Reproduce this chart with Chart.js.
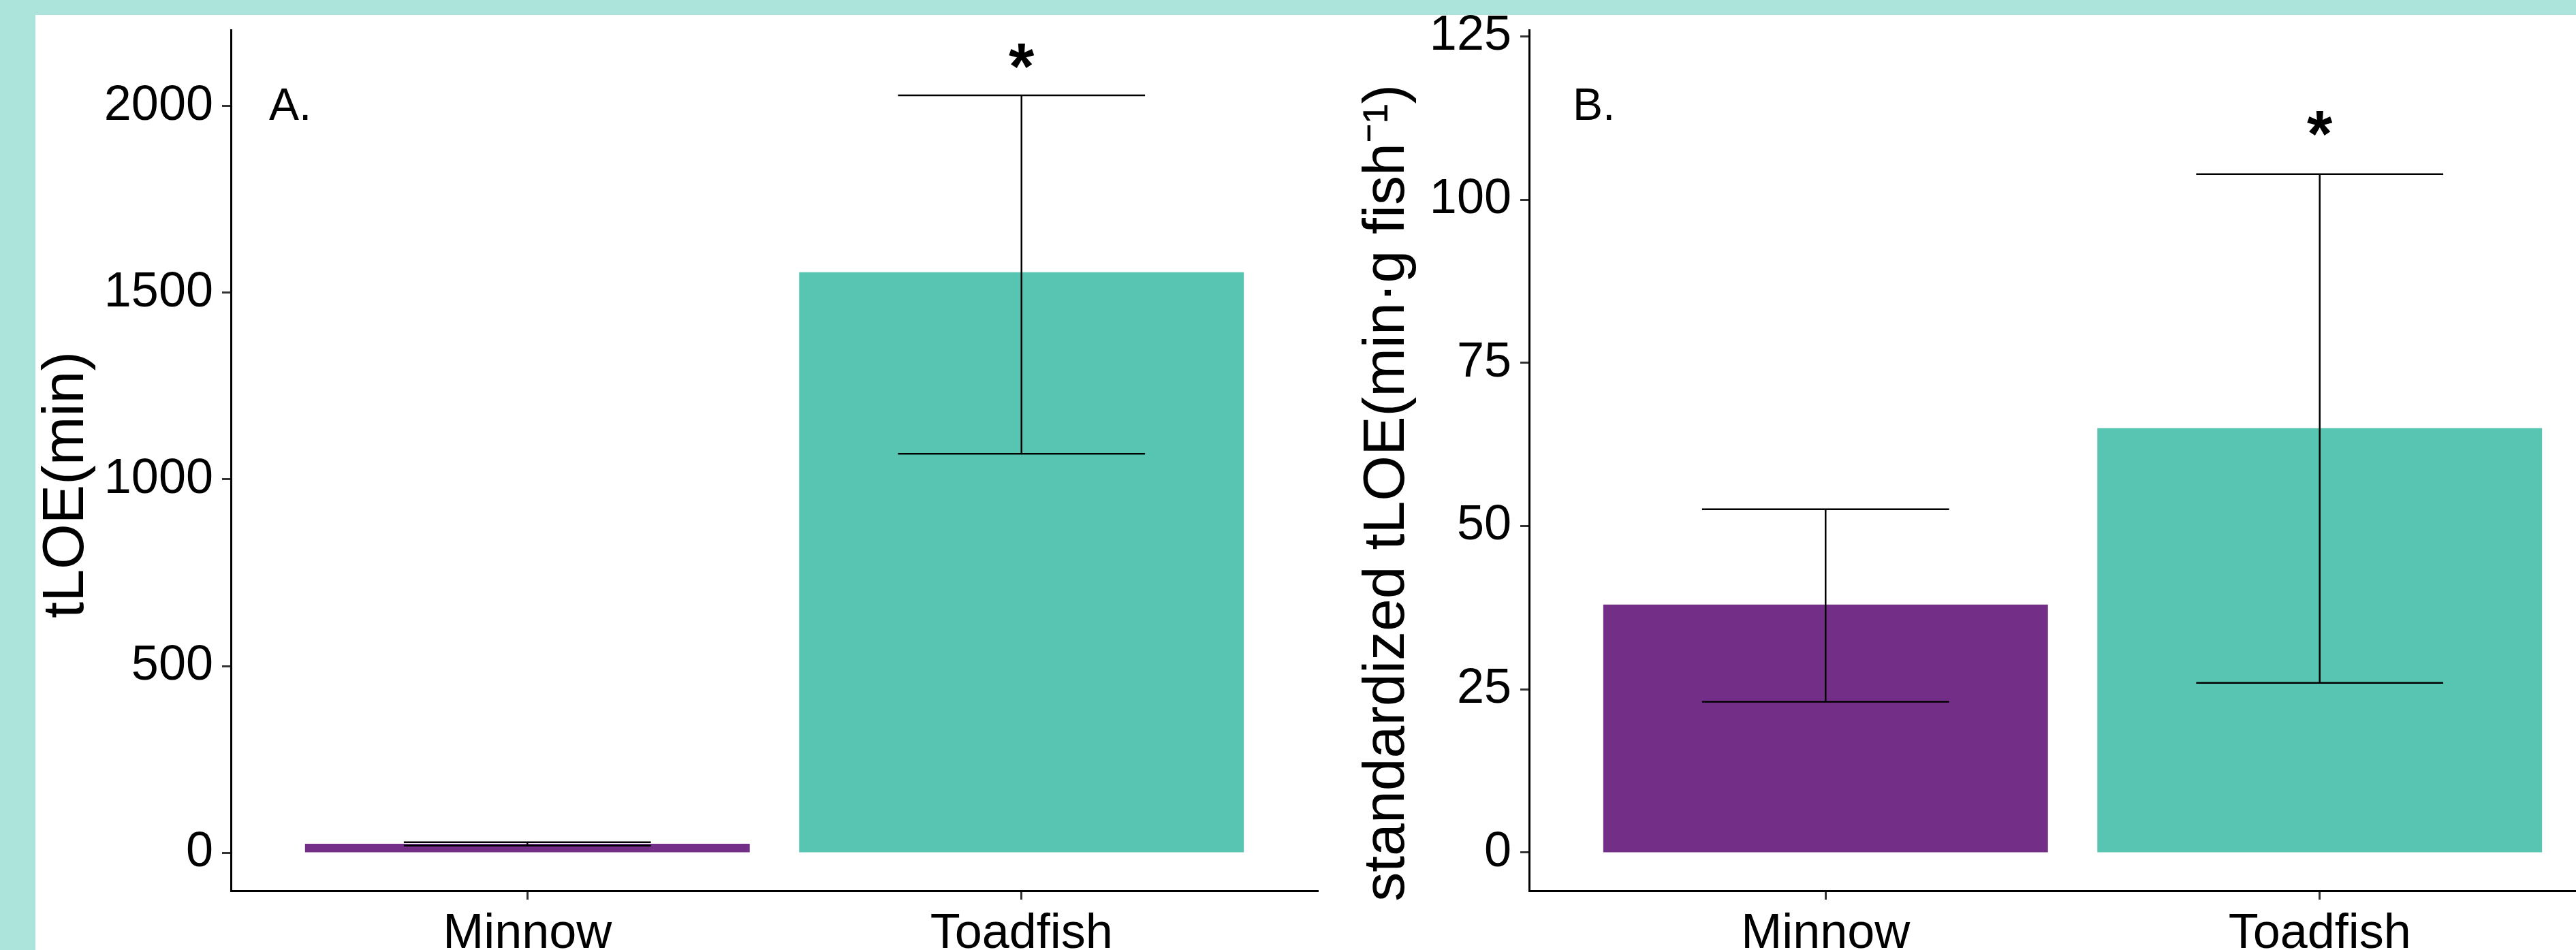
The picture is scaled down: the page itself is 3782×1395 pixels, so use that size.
<!DOCTYPE html>
<html>
<head>
<meta charset="utf-8">
<script src="https://cdn.jsdelivr.net/npm/chart.js@4.4.1/dist/chart.umd.min.js"></script>
<style>
  html, body { margin: 0; padding: 0; width: 3782px; height: 1395px; overflow: hidden; background: #ace3da; }
  #sheet { position: absolute; left: 52px; top: 22px; width: 3730px; height: 1373px; background: #ffffff; }
  .panel { position: absolute; top: 22px; width: 1906px; height: 1373px; }
</style>
</head>
<body>
<div id="sheet"></div>
<div class="panel" style="left:52px"><canvas id="chartA" width="1906" height="1373"></canvas></div>
<div class="panel" style="left:1958px"><canvas id="chartB" width="1906" height="1373"></canvas></div>
<script>
// species, placed at 1 and 2 on the x axis like ggplot does
const categories = ['Minnow', 'Toadfish'];
const positions = [1, 2];
const barColors = ['#732f87', '#57c5b2'];

// panel A: tLOE (min)
const tloeTicks = [0, 500, 1000, 1500, 2000];
const tloeMean = [24, 1555];
const tloeUpper = [28, 2029];
const tloeLower = [19, 1069];
const tloeStars = ['', '*'];
const tloeStarValue = [null, 2131];

// panel B: standardized tLOE (min g fish^-1)
const stdTicks = [0, 25, 50, 75, 100, 125];
const stdMean = [38.0, 65.0];
const stdUpper = [52.6, 103.9];
const stdLower = [23.1, 26.0];
const stdStars = ['', '*'];
const stdStarValue = [null, 111.5];

const FONT = "'Liberation Sans', Arial, sans-serif";
const NB = '\u00a0';

// error bars, asterisks and the panel letter
const extras = {
    id: 'extras',
    afterDatasetsDraw(chart, args, o) {
        const ctx = chart.ctx;
        const xs = chart.scales.x;
        const ys = chart.scales.y;
        const half = xs.getPixelForValue(1.25) - xs.getPixelForValue(1);
        ctx.save();
        ctx.strokeStyle = '#000';
        ctx.lineWidth = 2.5;
        for (let i = 0; i < positions.length; i++) {
            const x = xs.getPixelForValue(positions[i]);
            const yu = ys.getPixelForValue(o.upper[i]);
            const yl = ys.getPixelForValue(o.lower[i]);
            ctx.beginPath();
            ctx.moveTo(x - half, yu); ctx.lineTo(x + half, yu);
            ctx.moveTo(x, yu); ctx.lineTo(x, yl);
            ctx.moveTo(x - half, yl); ctx.lineTo(x + half, yl);
            ctx.stroke();
            if (o.stars[i]) {
                ctx.fillStyle = '#000';
                ctx.font = 'bold 96px ' + FONT;
                ctx.textAlign = 'center';
                ctx.textBaseline = 'alphabetic';
                ctx.fillText(o.stars[i], x, ys.getPixelForValue(o.starValue[i]) + 46);
            }
        }
        ctx.fillStyle = '#000';
        ctx.font = '66px ' + FONT;
        ctx.textAlign = 'left';
        ctx.textBaseline = 'alphabetic';
        ctx.fillText(o.letter, chart.chartArea.left + o.letterX, 154);
        ctx.restore();
    }
};

function makePanel(id, cfg) {
    return new Chart(document.getElementById(id), {
        type: 'bar',
        data: {
            datasets: [{
                data: positions.map((p, i) => ({ x: p, y: cfg.mean[i] })),
                backgroundColor: barColors,
                categoryPercentage: 0.9,
                barPercentage: 1.0,
                borderWidth: 0
            }]
        },
        options: {
            responsive: false,
            animation: false,
            events: [],
            layout: { padding: { top: 22, right: 23, left: 0, bottom: 0 } },
            plugins: {
                legend: { display: false },
                tooltip: { enabled: false },
                extras: cfg.extras
            },
            scales: {
                x: {
                    type: 'linear',
                    offset: false,
                    min: 0.4,
                    max: 2.6,
                    grid: { display: true, offset: false, drawOnChartArea: false, drawTicks: true, tickLength: 13, tickColor: '#333', tickWidth: 3 },
                    border: { display: true, color: '#000', width: 3 },
                    ticks: {
                        autoSkip: false,
                        maxRotation: 0,
                        padding: 8,
                        color: '#000',
                        font: { family: FONT, size: 72 },
                        callback: v => categories[positions.indexOf(v)] || ''
                    },
                    afterBuildTicks: s => { s.ticks = positions.map(v => ({ value: v })); },
                    afterFit: s => { s.height = 87; s.paddingLeft = 0; s.paddingRight = 0; }
                },
                y: {
                    min: cfg.min,
                    max: cfg.max,
                    grid: { display: true, drawOnChartArea: false, drawTicks: true, tickLength: 13, tickColor: '#333', tickWidth: 3 },
                    border: { display: true, color: '#000', width: 3 },
                    ticks: {
                        padding: 13,
                        color: '#000',
                        font: { family: FONT, size: 72 },
                        callback: v => String(v)
                    },
                    afterBuildTicks: s => { s.ticks = cfg.ticks.map(v => ({ value: v })); },
                    title: {
                        display: true,
                        text: cfg.title,
                        color: '#000',
                        font: { family: FONT, size: 86 },
                        padding: { top: cfg.titlePad, bottom: 0 }
                    },
                    afterFit: s => { s.width = 287; s.paddingTop = 0; s.paddingBottom = 0; }
                }
            }
        },
        plugins: [extras]
    });
}

makePanel('chartA', {
    mean: tloeMean, ticks: tloeTicks, min: -102, max: 2204,
    title: 'tLOE(min)' + NB.repeat(3), titlePad: -5,
    extras: { upper: tloeUpper, lower: tloeLower, stars: tloeStars, starValue: tloeStarValue, letter: 'A.', letterX: 56 }
});

makePanel('chartB', {
    mean: stdMean, ticks: stdTicks, min: -5.85, max: 126,
    title: 'standardized tLOE(min\u00b7g fish\u207b\u00b9)' + NB.repeat(4), titlePad: 28,
    extras: { upper: stdUpper, lower: stdLower, stars: stdStars, starValue: stdStarValue, letter: 'B.', letterX: 64 }
});
</script>
</body>
</html>
